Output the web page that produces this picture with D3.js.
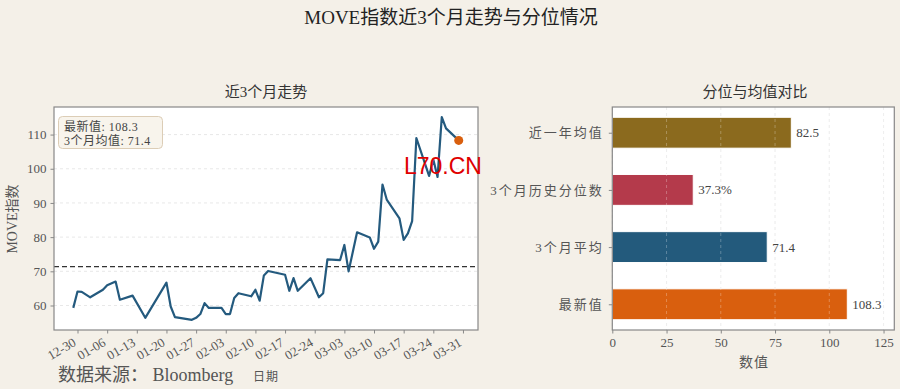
<!DOCTYPE html>
<html>
<head>
<meta charset="utf-8">
<script src="https://cdn.jsdelivr.net/npm/d3@7"></script>
<style>
  html, body { margin: 0; padding: 0; background: #f4f0e8; }
  svg { display: block; }
  text { font-family: "Liberation Serif", "Noto Sans CJK SC", serif; fill: #555; }
</style>
</head>
<body>
<div id="chart"></div>
<script>
// MOVE index, last 3 months (vertices)
const dates = [
  "2024-12-29", "2024-12-30", "2024-12-31", "2025-01-02", "2025-01-05", "2025-01-06",
  "2025-01-08", "2025-01-09", "2025-01-12", "2025-01-15", "2025-01-20", "2025-01-21",
  "2025-01-22", "2025-01-26", "2025-01-27", "2025-01-28", "2025-01-29", "2025-01-30",
  "2025-02-02", "2025-02-03", "2025-02-04", "2025-02-05", "2025-02-06", "2025-02-09",
  "2025-02-10", "2025-02-11", "2025-02-12", "2025-02-13", "2025-02-17", "2025-02-18",
  "2025-02-19", "2025-02-20", "2025-02-23", "2025-02-25", "2025-02-26", "2025-02-27",
  "2025-03-02", "2025-03-03", "2025-03-04", "2025-03-06", "2025-03-09", "2025-03-10",
  "2025-03-11", "2025-03-12", "2025-03-13", "2025-03-16", "2025-03-17", "2025-03-18",
  "2025-03-19", "2025-03-20", "2025-03-23", "2025-03-24", "2025-03-25", "2025-03-26",
  "2025-03-27", "2025-03-30"
];
const moveValues = [
  59.3, 64.1, 64.0, 62.4, 64.6, 65.9,
  67.0, 61.7, 62.9, 56.4, 66.7, 59.7,
  56.6, 55.8, 56.4, 57.5, 60.7, 59.3,
  59.3, 57.5, 57.5, 62.2, 63.6, 62.7,
  64.6, 61.4, 68.8, 70.1, 69.0, 64.3,
  68.0, 64.3, 68.0, 62.4, 63.6, 73.5,
  73.3, 77.7, 70.0, 81.4, 79.9, 76.6,
  78.7, 95.4, 91.0, 85.5, 79.2, 81.1,
  84.7, 109.0, 97.9, 102.7, 97.6, 115.1,
  111.8, 108.3
];
const latestValue = 108.3;
const mean3m = 71.4;
const yTicks = [60, 70, 80, 90, 100, 110];

// comparison bars, bottom to top
const barLabels = ["最新值", "3个月平均", "3个月历史分位数", "近一年均值"];
const barValues = [108.3, 71.4, 37.3, 82.5];
const barTexts = ["108.3", "71.4", "37.3%", "82.5"];
const barColors = ["#d95f0e", "#235a7c", "#b43a4b", "#8b6a1e"];
const barTicks = [0, 25, 50, 75, 100, 125];

const width = 900, height = 389;
const parse = d3.timeParse("%Y-%m-%d");
const data = dates.map((d, i) => ({ date: parse(d), value: moveValues[i] }));

const svg = d3.select("#chart").append("svg")
  .attr("width", width).attr("height", height);

// main title
svg.append("text")
  .attr("x", 451).attr("y", 24)
  .attr("text-anchor", "middle")
  .style("font-size", "19px").style("fill", "#222")
  .text("MOVE指数近3个月走势与分位情况");

// ---------- left: line chart ----------
const L = { left: 54, right: 478, top: 107, bottom: 330 };

const tExt = d3.extent(data, d => d.date);
const span = tExt[1] - tExt[0];
const x = d3.scaleTime()
  .domain([new Date(+tExt[0] - span * 0.05), new Date(+tExt[1] + span * 0.05)])
  .range([L.left, L.right]);

const vExt = d3.extent(data, d => d.value);
const vSpan = vExt[1] - vExt[0];
const y = d3.scaleLinear()
  .domain([vExt[0] - vSpan * 0.05, vExt[1] + vSpan * 0.05])
  .range([L.bottom, L.top]);

const left = svg.append("g");

left.append("rect")
  .attr("x", L.left).attr("y", L.top)
  .attr("width", L.right - L.left).attr("height", L.bottom - L.top)
  .attr("fill", "#fff");

// horizontal grid
left.selectAll(".ygrid").data(yTicks).enter().append("line")
  .attr("x1", L.left).attr("x2", L.right)
  .attr("y1", d => y(d)).attr("y2", d => y(d))
  .attr("stroke", "#e2e2e2").attr("stroke-width", 0.8)
  .attr("stroke-dasharray", "3,3");

// mean line
left.append("line")
  .attr("x1", L.left).attr("x2", L.right)
  .attr("y1", y(mean3m)).attr("y2", y(mean3m))
  .attr("stroke", "#333").attr("stroke-width", 1.3)
  .attr("stroke-dasharray", "5,3");

// MOVE line
const line = d3.line().x(d => x(d.date)).y(d => y(d.value));
left.append("path")
  .datum(data)
  .attr("fill", "none")
  .attr("stroke", "#245a7e")
  .attr("stroke-width", 2.2)
  .attr("stroke-linejoin", "round")
  .attr("d", line);

// latest point
const last = data[data.length - 1];
left.append("circle")
  .attr("cx", x(last.date)).attr("cy", y(last.value))
  .attr("r", 4.5).attr("fill", "#d95f0e");

// axes
const xAxis = left.append("g")
  .attr("transform", `translate(0,${L.bottom})`)
  .call(d3.axisBottom(x).ticks(d3.timeMonday.every(1)).tickFormat(d3.timeFormat("%m-%d")).tickSize(3.5).tickPadding(3));
xAxis.select(".domain").remove();
xAxis.selectAll("line").attr("stroke", "#888");
xAxis.selectAll(".tick text")
  .attr("y", 0).attr("dy", 0)
  .attr("transform", "translate(-1,15) rotate(-30)")
  .attr("text-anchor", "end")
  .style("font-size", "13px").style("fill", "#555");

const yAxis = left.append("g")
  .attr("transform", `translate(${L.left},0)`)
  .call(d3.axisLeft(y).tickValues(yTicks).tickSize(3.5).tickPadding(4));
yAxis.select(".domain").remove();
yAxis.selectAll("line").attr("stroke", "#888");
yAxis.selectAll("text").style("font-size", "13px").style("fill", "#555");

// frame
left.append("rect")
  .attr("x", L.left).attr("y", L.top)
  .attr("width", L.right - L.left).attr("height", L.bottom - L.top)
  .attr("fill", "none").attr("stroke", "#888").attr("stroke-width", 1.2);

// info box
left.append("rect")
  .attr("x", 58.5).attr("y", 116.5).attr("width", 104).attr("height", 32)
  .attr("rx", 4).attr("fill", "#f8f4ec").attr("stroke", "#dccdb6").attr("stroke-width", 1);
left.append("text")
  .attr("x", 64).attr("y", 131)
  .style("font-size", "12px").style("fill", "#444").style("letter-spacing", "0.5px")
  .text(`最新值: ${latestValue.toFixed(1)}`);
left.append("text")
  .attr("x", 64).attr("y", 145)
  .style("font-size", "12px").style("fill", "#444").style("letter-spacing", "0.5px")
  .text(`3个月均值: ${mean3m.toFixed(1)}`);

// titles and labels
svg.append("text")
  .attr("x", 266).attr("y", 97).attr("text-anchor", "middle")
  .style("font-size", "15px").style("fill", "#333")
  .text("近3个月走势");
svg.append("text")
  .attr("transform", "translate(17,219) rotate(-90)")
  .attr("text-anchor", "middle")
  .style("font-size", "14px").style("fill", "#555")
  .text("MOVE指数");
svg.append("text")
  .attr("x", 266).attr("y", 381).attr("text-anchor", "middle")
  .style("font-size", "12px").style("fill", "#555").style("letter-spacing", "1px")
  .text("日期");
svg.append("text")
  .attr("x", 58).attr("y", 381)
  .style("font-size", "18px").style("fill", "#555")
  .text("数据来源： Bloomberg");

// watermark
svg.append("text")
  .attr("x", 404).attr("y", 174)
  .style("font-family", "Liberation Sans, Arial, sans-serif")
  .style("font-size", "23px").style("fill", "#e00000")
  .text("L70.CN");

// ---------- right: bar chart ----------
const R = { left: 612.3, right: 894.3, top: 107, bottom: 330 };

const bx = d3.scaleLinear()
  .domain([0, d3.max(barValues) * 1.2])
  .range([R.left, R.right]);
const by = d3.scaleLinear()
  .domain([-0.45, barLabels.length - 1 + 0.45])
  .range([R.bottom, R.top]);
const barH = by(0) - by(0.54);

const right = svg.append("g");

right.append("rect")
  .attr("x", R.left).attr("y", R.top)
  .attr("width", R.right - R.left).attr("height", R.bottom - R.top)
  .attr("fill", "#fff");

right.selectAll(".xgrid").data(barTicks).enter().append("line")
  .attr("x1", d => bx(d)).attr("x2", d => bx(d))
  .attr("y1", R.top).attr("y2", R.bottom)
  .attr("stroke", "#e2e2e2").attr("stroke-width", 0.8)
  .attr("stroke-dasharray", "3,3");

right.selectAll(".bar").data(barValues).enter().append("rect")
  .attr("x", bx(0))
  .attr("y", (d, i) => by(i) - barH / 2)
  .attr("width", d => bx(d) - bx(0))
  .attr("height", barH)
  .attr("fill", (d, i) => barColors[i])
  .attr("stroke", "#fff").attr("stroke-width", 1);

// grid shows faintly over the bars
right.selectAll(".xgrid2").data(barTicks.slice(1)).enter().append("line")
  .attr("x1", d => bx(d)).attr("x2", d => bx(d))
  .attr("y1", R.top).attr("y2", R.bottom)
  .attr("stroke", "rgba(255,255,255,0.35)").attr("stroke-width", 0.8)
  .attr("stroke-dasharray", "3,3");

right.selectAll(".val").data(barValues).enter().append("text")
  .attr("x", d => bx(d) + 5)
  .attr("y", (d, i) => by(i))
  .attr("dy", "0.35em")
  .style("font-size", "13px").style("fill", "#444")
  .text((d, i) => barTexts[i]);

const bxAxis = right.append("g")
  .attr("transform", `translate(0,${R.bottom})`)
  .call(d3.axisBottom(bx).tickValues(barTicks).tickSize(3.5).tickPadding(4));
bxAxis.select(".domain").remove();
bxAxis.selectAll("line").attr("stroke", "#888");
bxAxis.selectAll("text").style("font-size", "13px").style("fill", "#555");

const byAxis = right.append("g")
  .attr("transform", `translate(${R.left},0)`)
  .call(d3.axisLeft(by).tickValues(d3.range(barLabels.length)).tickFormat(i => barLabels[i]).tickSize(3.5).tickPadding(5));
byAxis.select(".domain").remove();
byAxis.selectAll("line").attr("stroke", "#888");
byAxis.selectAll("text").style("font-size", "13px").style("fill", "#555")
  .style("letter-spacing", "2px");

right.append("rect")
  .attr("x", R.left).attr("y", R.top)
  .attr("width", R.right - R.left).attr("height", R.bottom - R.top)
  .attr("fill", "none").attr("stroke", "#888").attr("stroke-width", 1.2);

svg.append("text")
  .attr("x", 755).attr("y", 97).attr("text-anchor", "middle")
  .style("font-size", "15px").style("fill", "#333")
  .text("分位与均值对比");
svg.append("text")
  .attr("x", 754).attr("y", 367).attr("text-anchor", "middle")
  .style("font-size", "14px").style("fill", "#555").style("letter-spacing", "1px")
  .text("数值");
</script>
</body>
</html>
